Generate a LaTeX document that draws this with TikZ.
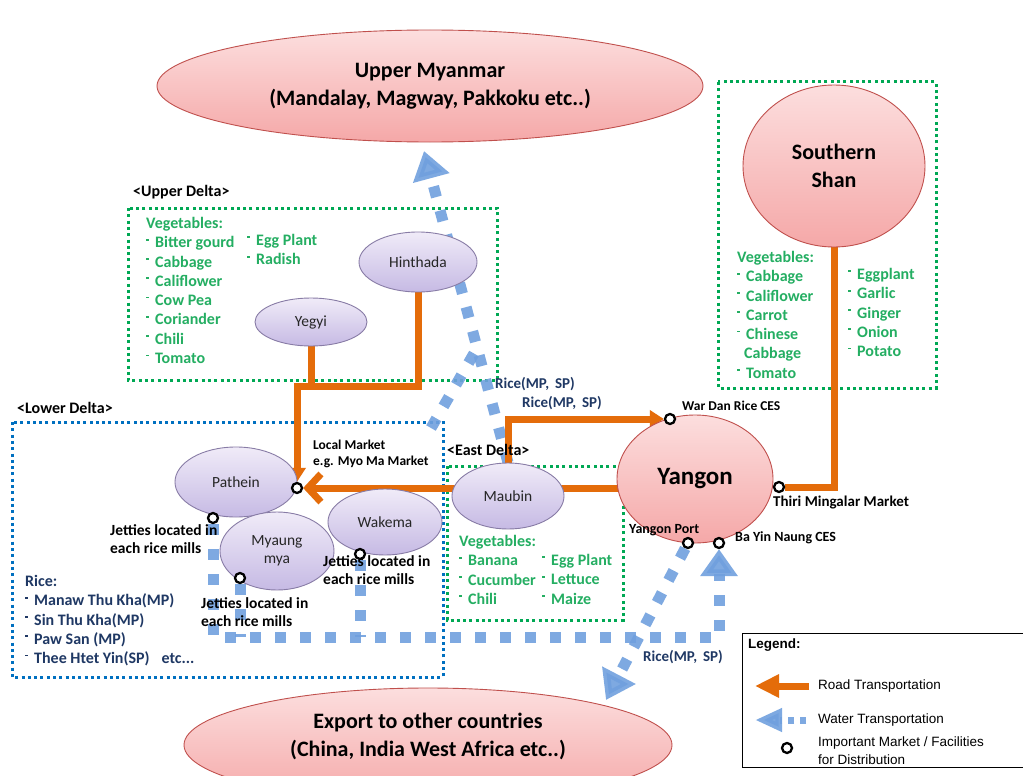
\documentclass[tikz,border=0pt]{standalone}
\usepackage{fontspec}
\setmainfont{Carlito}
\newfontfamily\legfont{Liberation Sans}
\usetikzlibrary{arrows.meta,shapes.geometric}

\definecolor{road}{RGB}{228,108,10}
\definecolor{water}{RGB}{112,160,222}
\definecolor{vegtext}{RGB}{36,174,98}
\definecolor{vegbox}{RGB}{0,168,84}
\definecolor{lowbox}{RGB}{0,112,192}
\definecolor{rice}{RGB}{31,56,100}
\definecolor{pinkA}{RGB}{252,222,222}
\definecolor{pinkB}{RGB}{245,168,168}
\definecolor{pinkEdge}{RGB}{192,80,77}
\definecolor{lavA}{RGB}{240,235,248}
\definecolor{lavB}{RGB}{198,186,228}
\definecolor{lavEdge}{RGB}{136,124,166}

% layers: white page and dotted region boxes at the back, then the transport routes
\pgfdeclarelayer{boxes}
\pgfdeclarelayer{routes}
\pgfsetlayers{boxes,routes,main}

% small raised bullet used in the lists
\newcommand\vbul{\makebox[9pt][l]{\raisebox{0.45em}{\rule{3pt}{1.8pt}}}}

\begin{document}
\begin{tikzpicture}[x=1pt,y=-1pt,
  dotbox/.style={line width=3pt, dash pattern=on 3pt off 3.3pt},
  greenbox/.style={dotbox, draw=vegbox},
  bluebox/.style={dotbox, draw=lowbox},
  region/.style={ellipse, draw=pinkEdge, line width=0.9pt, top color=pinkA, bottom color=pinkB, inner sep=0pt, align=center},
  town/.style={ellipse, draw=lavEdge, line width=0.9pt, top color=lavA, bottom color=lavB, inner sep=0pt, align=center, text=black!85, font=\fontsize{15.5}{18}\selectfont},
  road/.style={draw=road, line width=7pt},
  water/.style={draw=water, opacity=0.9, line width=11pt, dash pattern=on 11pt off 14pt},
  waterleg/.style={draw=water, opacity=0.9, line width=7pt, dash pattern=on 6pt off 6pt},
  mk/.style={circle, draw=black, fill=white, line width=2.3pt, minimum size=10pt, inner sep=0pt},
  veg/.style={text=vegtext, font=\fontsize{16}{19.3}\selectfont\bfseries, align=left, inner sep=0pt, anchor=north west},
  ricetxt/.style={text=rice, font=\fontsize{15}{18}\selectfont\bfseries, inner sep=0pt, anchor=west},
  note/.style={font=\fontsize{15.5}{18}\selectfont\bfseries, align=left, inner sep=0pt, anchor=north west},
  small/.style={font=\fontsize{14}{16}\selectfont\bfseries, align=left, inner sep=0pt, anchor=west},
  head/.style={font=\fontsize{16}{19}\selectfont\bfseries, inner sep=0pt, anchor=west},
  legtxt/.style={font=\legfont\fontsize{13.5}{18}\selectfont, inner sep=0pt, anchor=west, align=left}
]
\useasboundingbox (0,0) rectangle (1023,776);
\clip (0,0) rectangle (1023,776);

% ---------- page and regional boxes ----------
\begin{pgfonlayer}{boxes}
\fill[white] (0,0) rectangle (1023,776);
\draw[greenbox] (128,208) rectangle (497,380);
\draw[bluebox]  (12,422) rectangle (443,677);
\draw[greenbox] (447,466) rectangle (623,620);
\draw[greenbox] (718,82) rectangle (936,388);
\end{pgfonlayer}

% ---------- places ----------
\node[region, minimum width=546pt, minimum height=112pt] (um) at (430,86) {};
\node[region, minimum width=182pt, minimum height=162pt, font=\fontsize{22}{28}\selectfont\bfseries] (shan) at (834,166) {Southern\\Shan};
\node[region, minimum width=156pt, minimum height=128pt, font=\fontsize{25}{28}\selectfont\bfseries] (yangon) at (695,479) {Yangon};
\node[region, minimum width=488pt, minimum height=114pt] (exp) at (428,745) {};

\node[town, minimum width=118pt, minimum height=60pt] (hinthada) at (418,262) {Hinthada};
\node[town, minimum width=112pt, minimum height=48pt] (yegyi) at (311,322) {Yegyi};
\node[town, minimum width=122pt, minimum height=70pt] (pathein) at (236,482) {Pathein};
\node[town, minimum width=114pt, minimum height=66pt] (wakema) at (385,522) {Wakema};
\node[town, minimum width=114pt, minimum height=78pt] (myaung) at (277,551) {Myaung\\mya};
\node[town, minimum width=112pt, minimum height=66pt] (maubin) at (508,496) {Maubin};

% ---------- facilities ----------
\node[mk] (m_loc) at (297,488) {};
\node[mk] (m_pat) at (213,518) {};
\node[mk] (m_mya) at (240,578) {};
\node[mk] (m_wak) at (360,554) {};
\node[mk] (m_wd) at (670,419) {};
\node[mk] (m_thiri) at (779,487) {};
\node[mk] (m_port) at (688,543) {};
\node[mk] (m_byn) at (719,543) {};

% ---------- transport routes ----------
\coordinate (rowL) at (213,637);
\coordinate (rowR) at (719,637);
\coordinate (umtip) at (424,151);
\coordinate (exptip) at (606,700);
\coordinate (w4s) at (431,428);
\coordinate (w4e) at (476,350);
\coordinate (jn) at (297,386);
\begin{pgfonlayer}{routes}
% water
\draw[water] (m_mya) -- (m_mya |- rowL);
\draw[water] (m_wak) -- (m_wak |- rowL);
\draw[water, -{Triangle[length=27pt,width=36pt]}] (m_pat) -- (rowL) -- (rowR) -- (m_byn);
\draw[water, -{Triangle[length=28pt,width=36pt]}] (m_port) -- (exptip);
\draw[water, -{Triangle[length=28pt,width=36pt]}] (maubin.north) -- (umtip);
\draw[water] (w4s) -- (w4e);
% road
\draw[road, -{Straight Barb[length=13pt,width=28pt]}] (yangon.center |- m_loc) -- (m_loc);
\draw[road, -{Triangle[length=14pt,width=17pt]}] (maubin.center) |- (m_wd);
\draw[road, -{Triangle[length=14pt,width=17pt]}] (hinthada.center) |- (jn) -- (m_loc);
\draw[road] (yegyi.center) -- (yegyi.center |- jn);
\draw[road] (shan.center) |- (m_thiri);
\end{pgfonlayer}

% ---------- titles of the large regions ----------
\node[font=\fontsize{22}{28}\selectfont\bfseries, align=center, inner sep=0pt] (umtxt) at (um) {Upper Myanmar\\(Mandalay, Magway, Pakkoku etc..)};
\node[font=\fontsize{22}{28}\selectfont\bfseries, align=center, inner sep=0pt] (exptxt) at (428,736) {Export to other countries\\(China, India West Africa etc..)};

% ---------- region headings ----------
\node[head] (hud) at (133,192) {<Upper Delta>};
\node[head] (hld) at (17,408) {<Lower Delta>};
\node[head] (hed) at (447,450) {<East Delta>};

% ---------- produce lists ----------
\node[veg] (udv1) at (146,217) {Vegetables:\\\vbul Bitter gourd\\\vbul Cabbage\\\vbul Califlower\\\vbul Cow Pea\\\vbul Coriander\\\vbul Chili\\\vbul Tomato};
\node[veg] (udv2) at (247,234) {\vbul Egg Plant\\\vbul Radish};

\node[veg] (ssv1) at (737,251) {Vegetables:\\\vbul Cabbage\\\vbul Califlower\\\vbul Carrot\\\vbul Chinese\\\hspace*{7pt}Cabbage\\\vbul Tomato};
\node[veg] (ssv2) at (848,268) {\vbul Eggplant\\\vbul Garlic\\\vbul Ginger\\\vbul Onion\\\vbul Potato};

\node[veg] (edv1) at (459,535) {Vegetables:\\\vbul Banana\\\vbul Cucumber\\\vbul Chili};
\node[veg] (edv2) at (542,554) {\vbul Egg Plant\\\vbul Lettuce\\\vbul Maize};

\node[veg, text=rice] (rice) at (25,575) {Rice:\\\vbul Manaw Thu Kha(MP)\\\vbul Sin Thu Kha(MP)\\\vbul Paw San (MP)\\\vbul Thee Htet Yin(SP)\hspace{12pt}etc...};

% ---------- notes ----------
\node[note, font=\fontsize{13.5}{16}\selectfont\bfseries] (loc) at (313,440) {Local Market\\e.g. Myo Ma Market};
\node[note] (j1) at (110,524) {Jetties located in\\each rice mills};
\node[note] (j2) at (201,597) {Jetties located in\\each rice mills};
\node[note] (j3) at (323,555) {Jetties located in\\each rice mills};

\node[ricetxt] (r1) at (495,384) {Rice(MP,\, SP)};
\node[ricetxt] (r2) at (522,403) {Rice(MP,\, SP)};
\node[ricetxt] (r3) at (643,657) {Rice(MP,\, SP)};

\node[small, font=\fontsize{13.5}{16}\selectfont\bfseries] (twd) at (682,406) {War Dan Rice CES};
\node[small, font=\fontsize{15}{16}\selectfont\bfseries] (tthiri) at (773,503) {Thiri Mingalar Market};
\node[small] (tport) at (629,530) {Yangon Port};
\node[small] (tbyn) at (735,538) {Ba Yin Naung CES};

% ---------- legend ----------
\node[draw=black, fill=white, line width=0.8pt, minimum width=300pt, minimum height=134pt, anchor=north west, inner sep=0pt] (leg) at (742,633) {};
\node[legtxt, font=\legfont\fontsize{13.5}{16}\selectfont\bfseries] (legt) at (748,645) {Legend:};
\coordinate (lr1) at (809,686);
\coordinate (lr2) at (755,686);
\draw[road, -{Triangle[length=24pt,width=22pt]}] (lr1) -- (lr2);
\coordinate (lw1) at (806,720);
\coordinate (lw2) at (755,720);
\draw[waterleg, -{Triangle[length=27pt,width=22pt]}] (lw1) -- (lw2);
\node[mk] (legm) at (787,748) {};
\node[legtxt] (lt1) at (818,686) {Road Transportation};
\node[legtxt] (lt2) at (818,720) {Water Transportation};
\node[legtxt, anchor=north west] (lt3) at (818,737) {Important Market / Facilities\\for Distribution};
\end{tikzpicture}
\end{document}
